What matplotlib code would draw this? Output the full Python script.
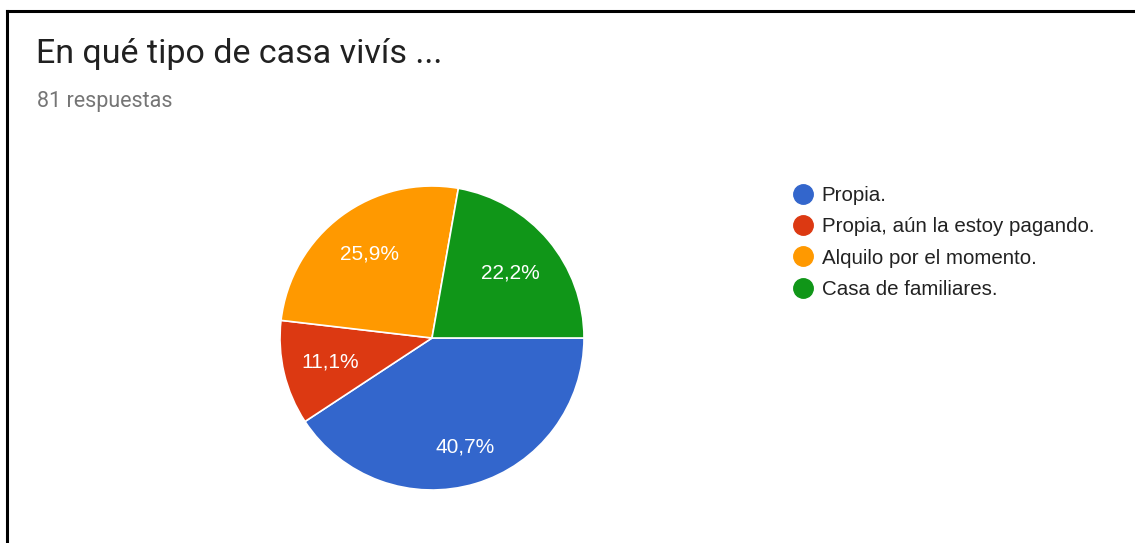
import numpy as np
import matplotlib.pyplot as plt
from matplotlib.lines import Line2D

# survey answers (81 responses)
categorias = ['Propia.', 'Propia, aún la estoy pagando.',
              'Alquilo por el momento.', 'Casa de familiares.']
respuestas = [33, 9, 21, 18]
colores = ['#3366cc', '#dc3912', '#ff9900', '#109618']
titulo = 'En qué tipo de casa vivís ...'
subtitulo = '81 respuestas'

W, H = 1135, 543
fig = plt.figure(figsize=(W / 100, H / 100), dpi=100)
fig.patch.set_facecolor('white')

# card border, top and left edges
fig.add_artist(Line2D([7 / W, 7 / W], [0, 1 - 11 / H], color='black', lw=2.2))
fig.add_artist(Line2D([7 / W, 1], [1 - 11 / H, 1 - 11 / H], color='black', lw=2.2))

fig.text(36 / W, 1 - 54 / H, titulo, fontsize=24.5, family='Roboto',
         color='#212121', va='center', ha='left')
fig.text(37 / W, 1 - 101 / H, subtitulo, fontsize=15.5, family='Roboto',
         color='#757575', va='center', ha='left')

# pie axes: centre (432, 338) px, radius 152 px
cx, cy, r = 432, 338, 152
ax = fig.add_axes([(cx - r) / W, 1 - (cy + r) / H, 2 * r / W, 2 * r / H])
wedges, _, autotexts = ax.pie(
    respuestas, colors=colores, startangle=0, counterclock=False,
    autopct=lambda p: f'{p:.1f}%'.replace('.', ','), pctdistance=0.69,
    wedgeprops=dict(edgecolor='white', linewidth=1.2),
    textprops=dict(color='white', fontsize=15, family='Liberation Sans'))

# push the big slice's label a little further out
dist = [0.75, 0.69, 0.69, 0.67]
for w, t, d in zip(wedges, autotexts, dist):
    ang = np.deg2rad((w.theta1 + w.theta2) / 2)
    t.set_position((d * np.cos(ang), d * np.sin(ang)))

ax.set_xlim(-1, 1)
ax.set_ylim(-1, 1)
ax.set_aspect('equal')
ax.axis('off')

handles = [Line2D([], [], marker='o', ls='', markersize=14,
                  markerfacecolor=c, markeredgecolor=c) for c in colores]
fig.legend(handles, categorias, loc='upper left',
           bbox_to_anchor=(795 / W, 1 - 186 / H), frameon=False,
           prop=dict(family='Liberation Sans', size=14.8),
           labelcolor='#222222', handlelength=0.8, handletextpad=0.5,
           labelspacing=0.6, borderpad=0, borderaxespad=0)

fig.savefig('out.png', dpi=100)
